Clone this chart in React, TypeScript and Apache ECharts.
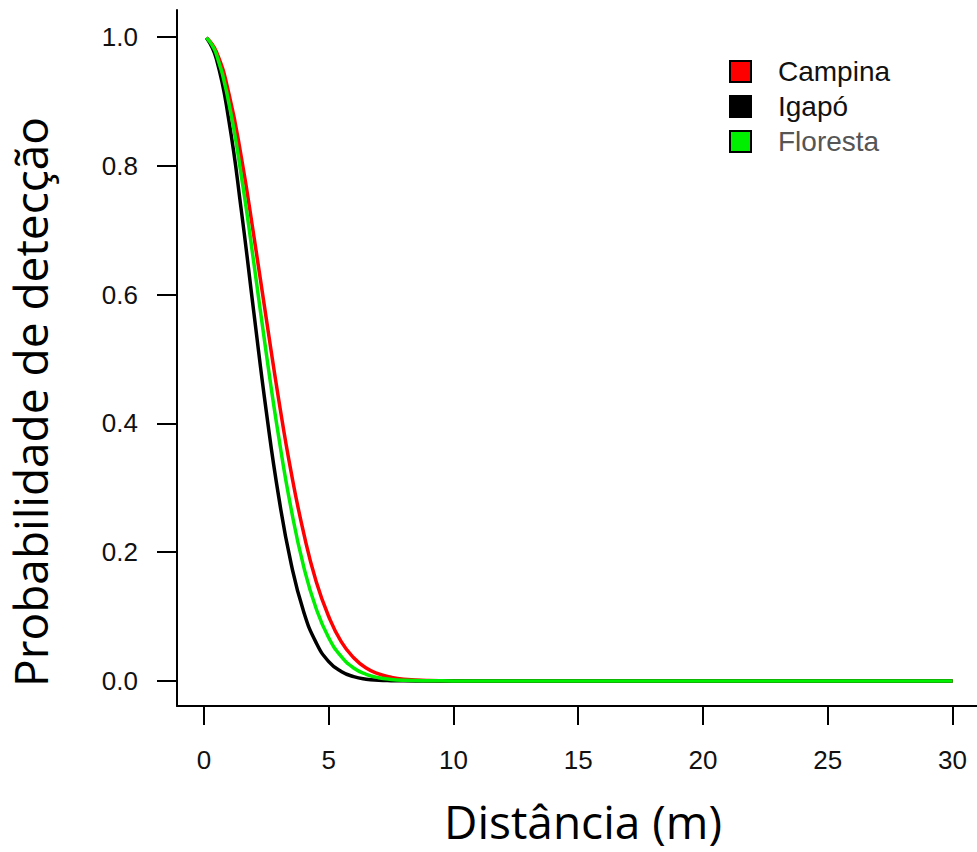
import React, { useEffect, useRef } from "react";
import * as echarts from "echarts";

const distances = [0.1, 0.5, 1, 1.5, 2, 2.5, 3, 3.5, 4, 4.5, 5, 5.5, 6, 6.5, 7, 7.5, 8, 9, 10, 12, 15, 20, 25, 30];
const campina = [0.999, 0.977, 0.912, 0.813, 0.691, 0.562, 0.436, 0.323, 0.229, 0.154, 0.1, 0.061, 0.036, 0.02, 0.0109, 0.0056, 0.0027, 0.0006, 0.0001, 0, 0, 0, 0, 0];
const igapo = [0.999, 0.966, 0.87, 0.73, 0.572, 0.418, 0.285, 0.181, 0.107, 0.059, 0.03, 0.0146, 0.0066, 0.0027, 0.0011, 0.0004, 0.0001, 0, 0, 0, 0, 0, 0, 0];
const floresta = [0.999, 0.973, 0.897, 0.784, 0.649, 0.508, 0.378, 0.266, 0.177, 0.112, 0.067, 0.038, 0.02, 0.0103, 0.005, 0.0023, 0.001, 0.0002, 0, 0, 0, 0, 0, 0];
const xTicks = [0, 5, 10, 15, 20, 25, 30];
const yTicks = [0, 0.2, 0.4, 0.6, 0.8, 1.0];
const seriesNames = ["Campina", "Igapó", "Floresta"];
const seriesColors = ["#ff0000", "#000000", "#00ee00"];
const xTitle = "Distância (m)";
const yTitle = "Probabilidade de detecção";

export default function App() {
  const ref = useRef<HTMLDivElement>(null);
  useEffect(() => {
    if (!ref.current) return;
    const chart = echarts.init(ref.current, null, { renderer: "svg" });
    const dataSets = [campina, igapo, floresta];
    const font = "Liberation Sans, Arial, sans-serif";
    const titleFont = "Open Sans, sans-serif";
    chart.setOption({
      animation: false,
      backgroundColor: "#ffffff",
      grid: { left: 177, right: 0, top: 10, bottom: 146, containLabel: false },
      legend: {
        orient: "vertical",
        left: 729,
        top: 57.5,
        padding: 0,
        itemWidth: 21,
        itemHeight: 21,
        itemGap: 7,
        icon: "rect",
        itemStyle: { borderColor: "#000", borderWidth: 2 },
        textStyle: { fontFamily: font, fontSize: 28, color: "#111", padding: [0, 0, 0, 22] },
        data: seriesNames.map((n, i) => ({
          name: n,
          textStyle: { color: i === 2 ? "#555" : "#111" },
        })),
      },
      graphic: [
        {
          type: "text",
          x: 583,
          y: 821,
          style: {
            text: xTitle,
            fontFamily: titleFont,
            fontSize: 46,
            fill: "#000",
            textAlign: "center",
            textVerticalAlign: "middle",
          },
        },
        {
          type: "text",
          x: 30,
          y: 402,
          rotation: Math.PI / 2,
          style: {
            text: yTitle,
            fontFamily: titleFont,
            fontSize: 46,
            fill: "#000",
            textAlign: "center",
            textVerticalAlign: "middle",
          },
        },
      ],
      xAxis: {
        type: "value",
        min: -1.08,
        max: 30.98,
        splitLine: { show: false },
        axisLine: { show: true, onZero: false, lineStyle: { color: "#000", width: 2 } },
        axisTick: { show: true, length: 19, customValues: xTicks, lineStyle: { color: "#000", width: 2 } },
        axisLabel: { customValues: xTicks, fontFamily: font, fontSize: 26, color: "#111", margin: 41 },
      },
      yAxis: {
        type: "value",
        min: -0.039,
        max: 1.042,
        splitLine: { show: false },
        axisLine: { show: true, onZero: false, lineStyle: { color: "#000", width: 2 } },
        axisTick: { show: true, length: 20, customValues: yTicks, lineStyle: { color: "#000", width: 2 } },
        axisLabel: {
          customValues: yTicks,
          fontFamily: font,
          fontSize: 26,
          color: "#111",
          margin: 39,
          formatter: (v: number) => v.toFixed(1),
        },
      },
      series: seriesNames.map((n, i) => ({
        name: n,
        type: "line",
        smooth: true,
        showSymbol: false,
        symbol: "none",
        color: seriesColors[i],
        lineStyle: { color: seriesColors[i], width: 3.5 },
        data: distances.map((d, j) => [d, dataSets[i][j]]),
        z: 2 + i,
      })),
    });
    return () => chart.dispose();
  }, []);
  return <div ref={ref} style={{ width: 977, height: 852, position: "absolute", left: 0, top: 0 }} />;
}
